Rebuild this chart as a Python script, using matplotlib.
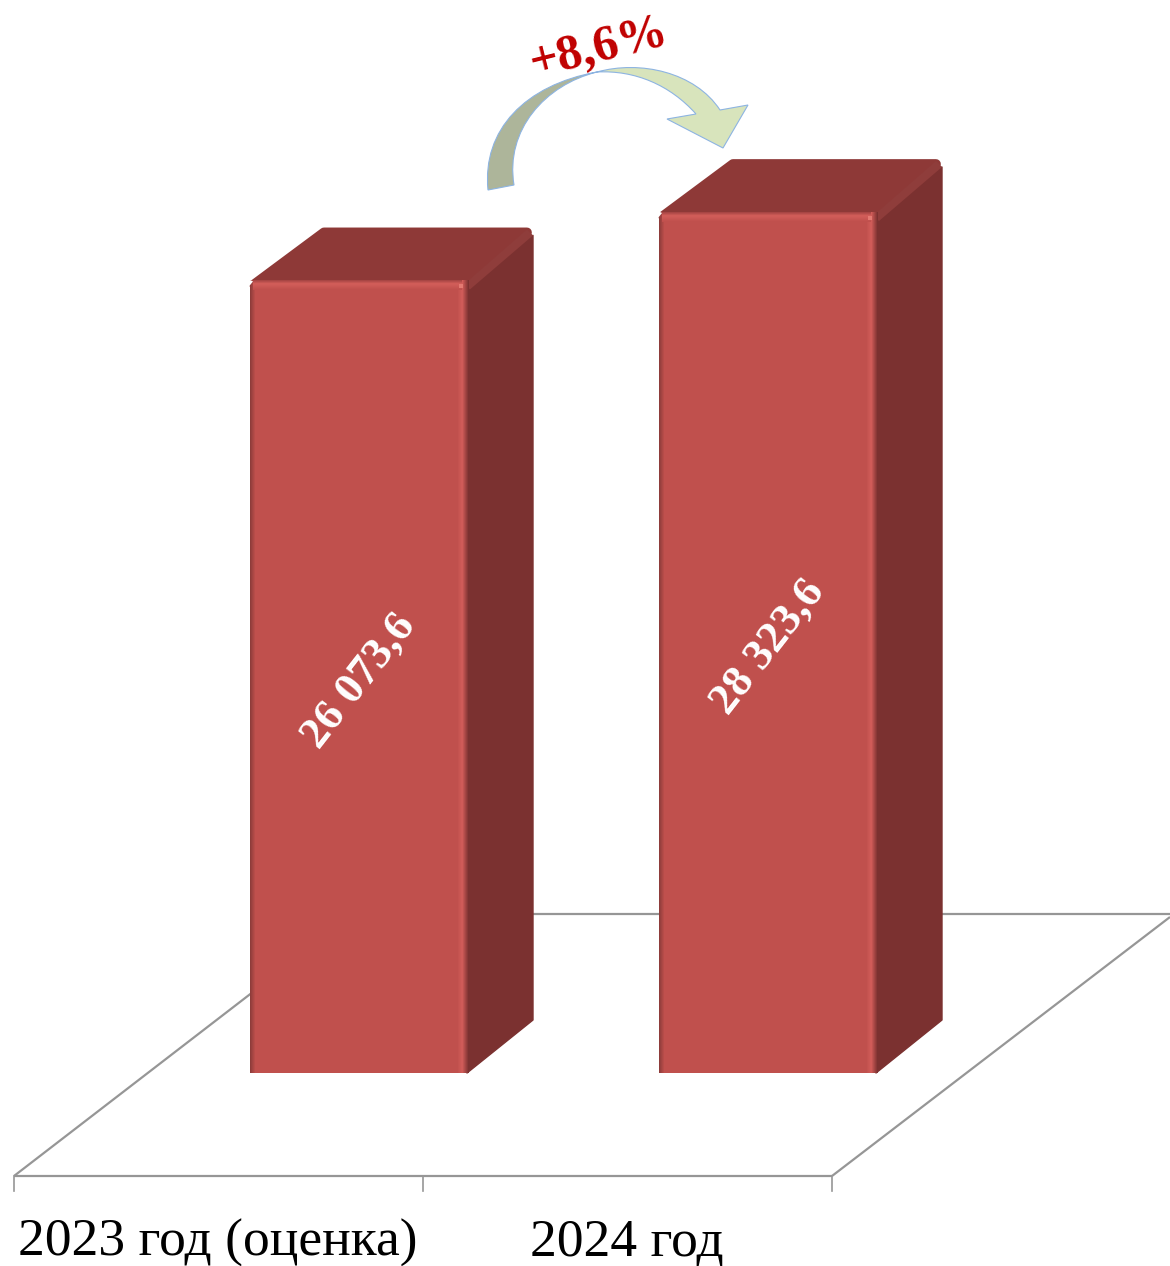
import numpy as np
import matplotlib
matplotlib.use("Agg")
import matplotlib.pyplot as plt
from matplotlib.patches import Polygon, Rectangle, PathPatch
from matplotlib.path import Path
from matplotlib.colors import to_rgb

# data
categories = ["2023 год (оценка)", "2024 год"]
values = [26073.6, 28323.6]
value_labels = ["26 073,6", "28 323,6"]
change_label = "+8,6%"

W, H = 1170, 1266
BASE = 1073        # pixel row of the bars' foot
PX_PER_UNIT = 861 / 28323.6
DX, DY = 68, 53    # depth of the 3d look

FRONT = "#C0504D"
TOP = "#8E3937"
SIDE = "#7B3130"
GRID = "#969696"

plt.rcParams["font.family"] = ["Liberation Serif", "DejaVu Serif"]

fig = plt.figure(figsize=(W / 100, H / 100), dpi=100)


def pixel_axes(zorder):
    a = fig.add_axes([0, 0, 1, 1], zorder=zorder)
    a.set_xlim(0, W)
    a.set_ylim(H, 0)
    a.axis("off")
    a.patch.set_alpha(0)
    return a


back = pixel_axes(0)
over = pixel_axes(2)

# bars on a real value scale
ax = fig.add_axes([153 / W, (H - BASE) / H, 818 / W, BASE / H], zorder=1)
ax.set_xlim(-0.5, 1.5)
ax.set_ylim(0, BASE / PX_PER_UNIT)
ax.axis("off")
ax.patch.set_alpha(0)
bars = ax.bar(range(len(values)), values, width=215 / 409, color=FRONT, linewidth=0)

# floor
floor_kw = dict(color=GRID, lw=1.6, solid_capstyle="butt")
back.plot([14, 832], [1176, 1176], **floor_kw)
back.plot([14, 262], [1176, 985], **floor_kw)
back.plot([832, 1170], [1176, 917], **floor_kw)
back.plot([500, 1170], [914, 914], **floor_kw)
for x in [14, 423, 832]:
    back.plot([x, x], [1176, 1191], color=GRID, lw=1.2)

for name, x in zip(categories, [218, 627]):
    back.text(x, 1243, name, ha="center", va="center", fontsize=38.5, color="black")


def shade(a, x0, x1, y0, y1, c0, c1, axis="x"):
    # gradient made of 1px rectangles
    c0, c1 = np.array(to_rgb(c0)), np.array(to_rgb(c1))
    if axis == "x":
        n = max(int(round(x1 - x0)), 1)
        for i in range(n):
            c = c0 + (c1 - c0) * i / max(n - 1, 1)
            a.add_patch(Rectangle((x0 + i, y0), 1, y1 - y0, fc=c, lw=0))
    else:
        n = max(int(round(y1 - y0)), 1)
        for i in range(n):
            c = c0 + (c1 - c0) * i / max(n - 1, 1)
            a.add_patch(Rectangle((x0, y0 + i), x1 - x0, 1, fc=c, lw=0))


for bar, val, lab in zip(bars, values, value_labels):
    # pixel box of the bar, read back from the value scale
    (xl, yb), (xr, yt) = ax.transData.transform([(bar.get_x(), 0), (bar.get_x() + bar.get_width(), val)])
    yt, yb = H - yt, H - yb

    # side and top faces
    back.add_patch(Polygon([(xr, yt + 2), (xr + DX, yt - DY + 8), (xr + DX, yb - DY), (xr + 2, yb)],
                           fc=SIDE, ec=SIDE, lw=1, joinstyle="round", zorder=3))
    back.add_patch(Polygon([(xl + 4, yt + 4), (xl + DX + 6, yt - DY + 5), (xr + DX - 6, yt - DY + 5), (xr, yt + 4)],
                           fc=TOP, ec=TOP, lw=7, joinstyle="round", zorder=4))
    back.add_patch(Polygon([(xr - 1, yt + 4), (xr + DX - 6, yt - DY + 2), (xr + DX, yt - DY + 8), (xr + 5, yt + 9)],
                           fc="#8F3D3B", lw=0, zorder=5))

    # bevel on the front face, bottom corners stay nearly square
    shade(over, xl, xl + 6, yt, yb, "#8E3C3A", FRONT)
    shade(over, xr - 8, xr - 3, yt, yb, FRONT, "#CF5B58")
    shade(over, xr - 3, xr + 4, yt, yb, "#CF5B58", SIDE)
    shade(over, xl + 3, xr - 3, yt, yt + 4, "#A84644", "#D05C58", axis="y")
    shade(over, xl + 3, xr - 3, yt + 4, yt + 10, "#D05C58", FRONT, axis="y")
    over.add_patch(Rectangle((xr - 6, yt + 4), 4, 4, fc="#E47A72", lw=0))
    # rounded top left corner
    over.add_patch(Polygon([(xl - 1, yt + 6), (xl + 3, yt + 1), (xl - 1, yt - 1)], fc="white", lw=0))

    over.text((xl + xr) / 2 + 1, (yt + yb) / 2 + 4, lab, color="white", fontsize=32.5,
              fontweight="bold", rotation=52, rotation_mode="anchor", ha="center", va="center")

# curved growth arrow
EDGE = "#8DB4E2"
dark = Path([(488, 190), (482, 130), (525, 85), (597, 72), (545, 85), (505, 130), (514, 185), (488, 190)],
            [Path.MOVETO, Path.CURVE4, Path.CURVE4, Path.CURVE4, Path.CURVE4, Path.CURVE4, Path.CURVE4, Path.CLOSEPOLY])
light = Path([(597, 72), (640, 60), (695, 72), (720, 110), (748, 105), (723, 148), (667, 119), (696, 114),
              (670, 85), (635, 70), (597, 72), (597, 72)],
             [Path.MOVETO, Path.CURVE4, Path.CURVE4, Path.CURVE4, Path.LINETO, Path.LINETO, Path.LINETO, Path.LINETO,
              Path.CURVE4, Path.CURVE4, Path.CURVE4, Path.CLOSEPOLY])
back.add_patch(PathPatch(light, fc="#D8E4BC", ec=EDGE, lw=0.8))
back.add_patch(PathPatch(dark, fc="#ADB59A", ec=EDGE, lw=0.8))
back.text(599, 48, change_label, color="#C00000", fontsize=36, fontweight="bold", rotation=14,
          rotation_mode="anchor", ha="center", va="center")

fig.savefig("out.png", dpi=100)
